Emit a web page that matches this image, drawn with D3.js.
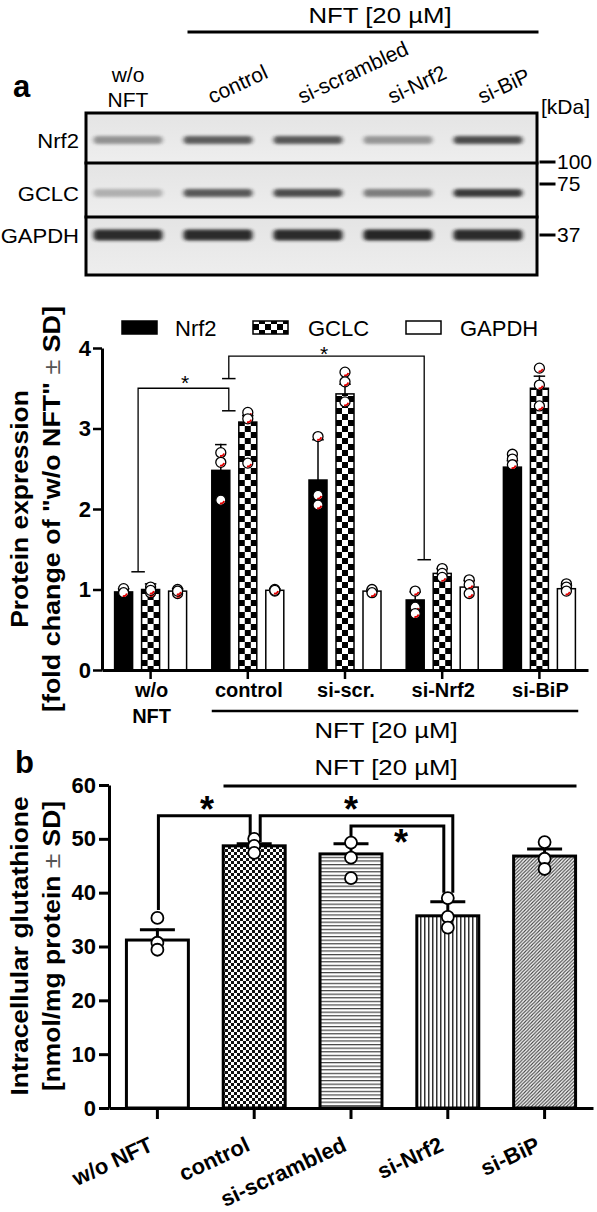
<!DOCTYPE html>
<html><head><meta charset="utf-8">
<script src="https://cdn.jsdelivr.net/npm/d3@7"></script>
<style>body{margin:0;background:#fff}svg{display:block}text{font-family:"Liberation Sans",Arial,sans-serif;fill:#000}</style>
</head><body>
<svg id="fig" width="597" height="1212"></svg>
<script>
// ================= DATA =================
// Western blot (panel a, top)
const lanes = ["w/o NFT", "control", "si-scrambled", "si-Nrf2", "si-BiP"];
const blotRows = ["Nrf2", "GCLC", "GAPDH"];
const blotNrf2 = [0.42, 0.68, 0.7, 0.4, 0.76];
const blotGCLC = [0.28, 0.7, 0.76, 0.52, 0.85];
const blotGAPDH = [0.92, 0.92, 0.92, 0.95, 0.92];
const markers = ["100", "75", "37"];

// Panel a bar chart
const groupsA = ["w/o NFT", "control", "si-scr.", "si-Nrf2", "si-BiP"];
const seriesA = ["Nrf2", "GCLC", "GAPDH"];
const nrf2Mean = [0.97, 2.48, 2.36, 0.87, 2.52];
const nrf2SD = [0.04, 0.32, 0.5, 0.1, 0.08];
const gclcMean = [1.0, 3.08, 3.43, 1.2, 3.5];
const gclcSD = [0.07, 0.08, 0.12, 0.06, 0.15];
const gapdhMean = [0.98, 0.99, 0.98, 1.03, 1.01];
const gapdhSD = [0.03, 0.02, 0.02, 0.08, 0.04];
const nrf2Pts = [[0.95, 1.01, 0.96], [2.7, 2.58, 2.11], [2.9, 2.17, 2.05], [0.98, 0.78, 0.7], [2.68, 2.62, 2.55]];
const gclcPts = [[0.96, 1.03, 0.99], [3.2, 3.12, 2.57], [3.7, 3.58, 3.33], [1.26, 1.2, 1.15], [3.75, 3.54, 3.28]];
const gapdhPts = [[0.95, 1.0, 0.98], [1.0, 0.98, 0.99], [0.98, 1.0, 0.96], [1.12, 1.06, 0.95], [1.07, 1.03, 0.98]];
const ticksA = [0, 1, 2, 3, 4];

// Panel b bar chart
const groupsB = ["w/o NFT", "control", "si-scrambled", "si-Nrf2", "si-BiP"];
const gshMean = [31.2, 48.7, 47.2, 35.7, 46.8];
const gshSD = [1.9, 0.4, 1.9, 2.6, 1.3];
const gshPts = [[35.3, 30.7, 29.4], [50.0, 48.7, 47.4], [49.3, 46.5, 42.7], [39.0, 35.5, 33.5], [49.4, 46.3, 44.4]];
const ticksB = [0, 10, 20, 30, 40, 50, 60];

const nftLabel = "NFT [20 \u00B5M]";

// ================= DRAWING =================
const svg = d3.select("#fig");
const defs = svg.append("defs");

function T(g, x, y, s, o = {}) {
  const t = g.append("text")
    .attr("transform", `translate(${x},${y}) rotate(${o.rot || 0}) scale(${o.sx || 1},1)`)
    .attr("font-size", o.size || 20)
    .attr("font-weight", o.bold ? "bold" : "normal")
    .attr("text-anchor", o.anchor || "start")
    .text(s);
  if (o.base) t.attr("dominant-baseline", o.base);
  return t;
}
function line(g, x1, y1, x2, y2, w) {
  return g.append("line").attr("x1", x1).attr("y1", y1).attr("x2", x2).attr("y2", y2)
    .attr("stroke", "#000").attr("stroke-width", w).attr("stroke-linecap", "square");
}

// ---------- Western blot ----------
const gB = svg.append("g");
T(gB, 380, 23, nftLabel, {size: 23, anchor: "middle", sx: 1.12});
line(gB, 189, 32, 537, 32, 3);
T(gB, 13, 97, "a", {size: 31, bold: true});

const laneX = d3.scaleBand().domain(lanes).range([83, 533]).paddingInner(0.19).paddingOuter(0.095);
const lc = l => laneX(l) + laneX.bandwidth() / 2;
const rowEdges = [113, 163, 217, 275];
const bandY = [140, 193, 235];
const bandH = [8, 8, 11];
const blotVals = [blotNrf2, blotGCLC, blotGAPDH];
const boxL = 86, boxR = 537;

const blur = defs.append("filter").attr("id", "blur").attr("x", "-20%").attr("y", "-150%").attr("width", "140%").attr("height", "400%");
blur.append("feGaussianBlur").attr("stdDeviation", "2 1.5");
const bgGrad = defs.append("linearGradient").attr("id", "bg").attr("x1", 0).attr("x2", 0).attr("y1", 0).attr("y2", 1);
bgGrad.append("stop").attr("offset", "0%").attr("stop-color", "#e4e4e4");
bgGrad.append("stop").attr("offset", "100%").attr("stop-color", "#eeeeee");
defs.append("clipPath").attr("id", "boxclip").append("rect")
  .attr("x", boxL).attr("y", rowEdges[0]).attr("width", boxR - boxL).attr("height", rowEdges[3] - rowEdges[0]);

const gBands = gB.append("g").attr("clip-path", "url(#boxclip)");
blotRows.forEach((r, ri) => {
  gBands.append("rect").attr("x", boxL).attr("y", rowEdges[ri]).attr("width", boxR - boxL)
    .attr("height", rowEdges[ri + 1] - rowEdges[ri]).attr("fill", "url(#bg)");
  lanes.forEach((l, li) => {
    gBands.append("rect").attr("x", laneX(l) + 2).attr("y", bandY[ri] - bandH[ri] / 2)
      .attr("width", laneX.bandwidth() - 4).attr("height", bandH[ri]).attr("rx", 4)
      .attr("fill", "#1a1a1a").attr("opacity", blotVals[ri][li]).attr("filter", "url(#blur)");
  });
  T(gB, 79, bandY[ri] + 2, r, {size: 21, anchor: "end", base: "middle", sx: 1.05});
});
gB.append("rect").attr("x", boxL).attr("y", rowEdges[0]).attr("width", boxR - boxL)
  .attr("height", rowEdges[3] - rowEdges[0]).attr("fill", "none").attr("stroke", "#000").attr("stroke-width", 3);
line(gB, boxL, rowEdges[1], boxR, rowEdges[1], 3);
line(gB, boxL, rowEdges[2], boxR, rowEdges[2], 3);

// lane labels
lanes.forEach((l, i) => {
  if (i === 0) {
    const p = l.split(" ");
    T(gB, lc(l), 82, p[0], {size: 21, anchor: "middle"});
    T(gB, lc(l), 107, p[1], {size: 21, anchor: "middle"});
  } else {
    T(gB, lc(l) - 6, 104, l, {size: 21, rot: -25});
  }
});
// kDa markers
T(gB, 541, 114, "[kDa]", {size: 21});
const markerY = [162, 184, 235];
markers.forEach((m, i) => {
  line(gB, 541, markerY[i], 554, markerY[i], 3);
  T(gB, 557, markerY[i] + 1, m, {size: 21, base: "middle"});
});

// ---------- Panel a chart ----------
const gA = svg.append("g");
const xA = d3.scaleBand().domain(groupsA).range([102, 588]);
const cA = g => xA(g) + xA.bandwidth() / 2;
const xSub = d3.scaleBand().domain(seriesA).range([-40.5, 40.5]).paddingInner(1 / 3).paddingOuter(1 / 6);
const yA = d3.scaleLinear().domain([0, 4]).range([670, 348]);

function checker(id, x0, s) {
  const p = defs.append("pattern").attr("id", id).attr("patternUnits", "userSpaceOnUse")
    .attr("x", x0).attr("y", 0).attr("width", 2 * s).attr("height", 2 * s);
  p.append("rect").attr("width", 2 * s).attr("height", 2 * s).attr("fill", "#fff");
  p.append("rect").attr("width", s).attr("height", s).attr("fill", "#000");
  p.append("rect").attr("x", s).attr("y", s).attr("width", s).attr("height", s).attr("fill", "#000");
}

const meansA = [nrf2Mean, gclcMean, gapdhMean];
const sdA = [nrf2SD, gclcSD, gapdhSD];
const ptsA = [nrf2Pts, gclcPts, gapdhPts];

// legend
const legX = [122, 253, 406], legTX = [175, 308, 460];
checker("chkLeg", legX[1], 6);
seriesA.forEach((s, i) => {
  gA.append("rect").attr("x", legX[i]).attr("y", 321).attr("width", 35).attr("height", 13)
    .attr("fill", i === 0 ? "#000" : i === 1 ? "url(#chkLeg)" : "#fff").attr("stroke", "#000").attr("stroke-width", 1.5);
  T(gA, legTX[i], 336, s, {size: 22});
});

// bars
const arcRed = d3.arc().innerRadius(2.4).outerRadius(4.3).startAngle(1.8).endAngle(3.4);
seriesA.forEach((s, si) => {
  groupsA.forEach((g, gi) => {
    const bx = cA(g) + xSub(s), bw = xSub.bandwidth(), v = meansA[si][gi];
    let fill = "#000";
    if (si === 1) { checker("chkA" + gi, bx, 6); fill = `url(#chkA${gi})`; }
    if (si === 2) fill = "#fff";
    gA.append("rect").attr("x", bx).attr("y", yA(v)).attr("width", bw).attr("height", yA(0) - yA(v))
      .attr("fill", fill).attr("stroke", "#000").attr("stroke-width", 1.5);
    const cx = bx + bw / 2, top = yA(v + sdA[si][gi]);
    line(gA, cx, yA(v), cx, top, 1.5);
    line(gA, cx - 5, top, cx + 5, top, 1.5);
  });
});
// points
seriesA.forEach((s, si) => {
  groupsA.forEach((g, gi) => {
    const cx = cA(g) + xSub(s) + xSub.bandwidth() / 2;
    const placed = [];
    const offs = [0, -4.5, 4.5];
    ptsA[si][gi].forEach(v => {
      const y = yA(v);
      let off = 0;
      for (const o of offs) {
        if (!placed.some(p => Math.abs(p.y - y) < 7 && Math.abs(p.o - o) < 6)) { off = o; break; }
      }
      placed.push({y, o: off});
      gA.append("circle").attr("cx", cx + off).attr("cy", y).attr("r", 5)
        .attr("fill", "#fff").attr("stroke", "#000").attr("stroke-width", 1.3);
      gA.append("path").attr("d", arcRed()).attr("transform", `translate(${cx + off},${y})`).attr("fill", "#e00000");
    });
  });
});

// axes
const axA = gA.append("g").attr("transform", "translate(102,0)")
  .call(d3.axisLeft(yA).tickValues(ticksA).tickSize(9).tickSizeOuter(0).tickPadding(2).tickFormat(d3.format("d")));
axA.select(".domain").attr("stroke-width", 3);
axA.selectAll(".tick line").attr("stroke-width", 2.5);
axA.selectAll(".tick text").attr("font-size", 22).attr("font-weight", "bold").attr("font-family", '"Liberation Sans",Arial,sans-serif');
const axAx = gA.append("g").attr("transform", "translate(0,670)")
  .call(d3.axisBottom(xA).tickSize(9).tickSizeOuter(0).tickFormat(""));
axAx.select(".domain").attr("stroke-width", 3);
axAx.selectAll(".tick line").attr("stroke-width", 2.5);

// x labels
groupsA.forEach((g, i) => {
  const p = g.split(" ");
  p.forEach((w, k) => T(gA, cA(g) + 1, 697 + k * 26, w, {size: 20, bold: true, anchor: "middle"}));
});
line(gA, 213, 711, 577, 711, 2.5);
T(gA, 386, 738, nftLabel, {size: 23, anchor: "middle", sx: 1.12});

// y title
function yTitle(g, x, cy, parts, sx) {
  const t = g.append("text").attr("transform", `translate(${x},${cy}) rotate(-90) scale(${sx},1)`)
    .attr("text-anchor", "middle").attr("font-size", 24).attr("font-weight", "bold");
  parts.forEach(p => t.append("tspan").text(p.t).attr("font-weight", p.light ? "normal" : "bold")
    .style("fill", p.light ? "#555" : "#000"));
}
yTitle(gA, 28, 509, [{t: "Protein expression"}], 1.1);
yTitle(gA, 60, 509, [{t: "[fold change of \"w/o NFT\" "}, {t: "\u00B1", light: true}, {t: " SD]"}], 1.12);

// significance brackets (thin)
function bracketA(x1, v1, x2, v2, vTop, cap1, cap2) {
  const p = d3.path();
  p.moveTo(x1, yA(v1)); p.lineTo(x1, yA(vTop)); p.lineTo(x2, yA(vTop)); p.lineTo(x2, yA(v2));
  gA.append("path").attr("d", p.toString()).attr("fill", "none").attr("stroke", "#000").attr("stroke-width", 1.3);
  line(gA, x1 - cap1, yA(v1), x1 + cap1, yA(v1), 1.5);
  line(gA, x2 - cap2, yA(v2), x2 + cap2, yA(v2), 1.5);
}
bracketA(cA("w/o NFT") - 12.5, 1.22, cA("control") - 19, 3.22, 3.5, 6, 6);
bracketA(cA("control") - 19, 3.62, cA("si-Nrf2") - 18, 1.37, 3.9, 6, 6);
T(gA, 185, 390, "*", {size: 21, anchor: "middle"});
T(gA, 324, 361, "*", {size: 21, anchor: "middle"});

// ---------- Panel b chart ----------
const gC = svg.append("g");
T(gC, 15, 773, "b", {size: 31, bold: true});
T(gC, 386, 775, nftLabel, {size: 23, anchor: "middle", sx: 1.12});
line(gC, 225, 786, 575, 786, 3);

const xB = d3.scaleBand().domain(groupsB).range([109, 593]).paddingInner(0.36).paddingOuter(0.18);
const cB = g => xB(g) + xB.bandwidth() / 2;
const yB = d3.scaleLinear().domain([0, 60]).range([1108, 785]);

// patterns
(function () {
  let p = defs.append("pattern").attr("id", "pChk").attr("patternUnits", "userSpaceOnUse").attr("width", 6).attr("height", 6);
  p.append("rect").attr("width", 6).attr("height", 6).attr("fill", "#fff");
  p.append("rect").attr("width", 3).attr("height", 3).attr("fill", "#111");
  p.append("rect").attr("x", 3).attr("y", 3).attr("width", 3).attr("height", 3).attr("fill", "#111");
  p = defs.append("pattern").attr("id", "pH").attr("patternUnits", "userSpaceOnUse").attr("width", 8).attr("height", 3.6);
  p.append("rect").attr("width", 8).attr("height", 3.6).attr("fill", "#fff");
  p.append("rect").attr("y", 0).attr("width", 8).attr("height", 1.2).attr("fill", "#444");
  p = defs.append("pattern").attr("id", "pV").attr("patternUnits", "userSpaceOnUse").attr("width", 4).attr("height", 8);
  p.append("rect").attr("width", 4).attr("height", 8).attr("fill", "#fff");
  p.append("rect").attr("x", 0).attr("width", 1.5).attr("height", 8).attr("fill", "#333");
  p = defs.append("pattern").attr("id", "pD").attr("patternUnits", "userSpaceOnUse").attr("width", 3.5).attr("height", 3.5);
  p.append("rect").attr("width", 3.5).attr("height", 3.5).attr("fill", "#fff");
  p.append("path").attr("d", "M-1,4.5 L4.5,-1 M-1,1 L1,-1 M2.5,4.5 L4.5,2.5").attr("stroke", "#444").attr("stroke-width", 1.1);
})();
const fillsB = ["#fff", "url(#pChk)", "url(#pH)", "url(#pV)", "url(#pD)"];

groupsB.forEach((g, i) => {
  const v = gshMean[i];
  gC.append("rect").attr("x", xB(g)).attr("y", yB(v)).attr("width", xB.bandwidth()).attr("height", yB(0) - yB(v))
    .attr("fill", fillsB[i]).attr("stroke", "#000").attr("stroke-width", 3);
});

// brackets (thick)
function bracketB(x1, v1, x2, v2, vTop) {
  const p = d3.path();
  p.moveTo(x1, yB(v1)); p.lineTo(x1, yB(vTop)); p.lineTo(x2, yB(vTop)); p.lineTo(x2, yB(v2));
  gC.append("path").attr("d", p.toString()).attr("fill", "none").attr("stroke", "#000").attr("stroke-width", 3);
}
bracketB(cB("w/o NFT") + 1, 36.8, cB("control") - 4, 49.4, 54.3);
bracketB(cB("control") + 6, 49.4, cB("si-Nrf2") + 5, 40, 54.3);
bracketB(cB("si-scrambled"), 49.8, cB("si-Nrf2") - 4, 40, 52.4);
T(gC, 207, 822, "*", {size: 36, bold: true, anchor: "middle"});
T(gC, 351, 822, "*", {size: 36, bold: true, anchor: "middle"});
T(gC, 401, 855, "*", {size: 36, bold: true, anchor: "middle"});

// error bars + points
groupsB.forEach((g, i) => {
  const cx = cB(g), v = gshMean[i], top = yB(v + gshSD[i]);
  line(gC, cx, yB(v), cx, top, 3);
  line(gC, cx - 16, top, cx + 16, top, 3);
  gshPts[i].forEach(p => {
    gC.append("circle").attr("cx", cx).attr("cy", yB(p)).attr("r", 6)
      .attr("fill", "#fff").attr("stroke", "#000").attr("stroke-width", 1.8);
  });
});

// axes
const axB = gC.append("g").attr("transform", "translate(109,0)")
  .call(d3.axisLeft(yB).tickValues(ticksB).tickSize(10).tickSizeOuter(0).tickPadding(3));
axB.select(".domain").attr("stroke-width", 3);
axB.selectAll(".tick line").attr("stroke-width", 3);
axB.selectAll(".tick text").attr("font-size", 22).attr("font-weight", "bold").attr("font-family", '"Liberation Sans",Arial,sans-serif');
const axBx = gC.append("g").attr("transform", "translate(0,1108)")
  .call(d3.axisBottom(xB).tickSize(11).tickSizeOuter(0).tickFormat(""));
axBx.select(".domain").attr("stroke-width", 3);
axBx.selectAll(".tick line").attr("stroke-width", 3);
groupsB.forEach(g => T(gC, cB(g) - 3, 1150, g, {size: 22, bold: true, anchor: "end", rot: -25}));

yTitle(gC, 28, 946, [{t: "Intracellular glutathione"}], 1.1);
yTitle(gC, 60, 946, [{t: "[nmol/mg protein "}, {t: "\u00B1", light: true}, {t: " SD]"}], 1.1);
</script>
</body></html>
